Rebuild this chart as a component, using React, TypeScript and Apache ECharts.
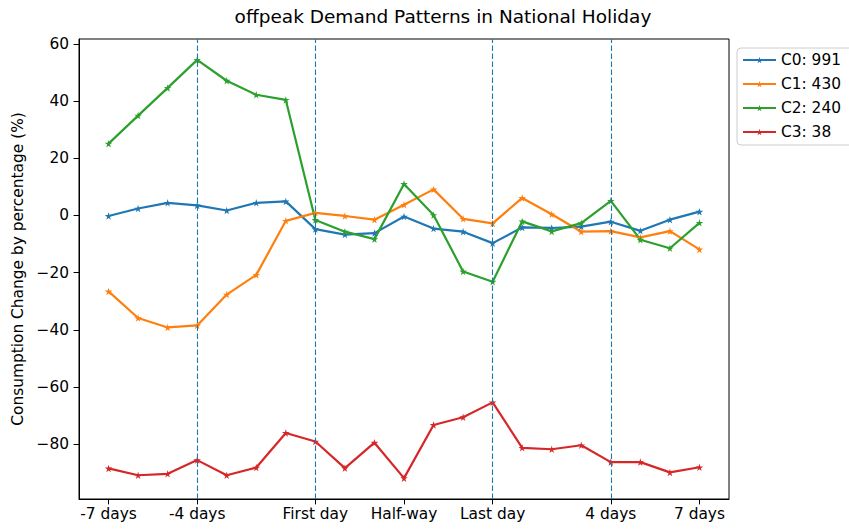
import React, { useEffect, useRef } from "react";
import * as echarts from "echarts";

const title = "offpeak Demand Patterns in National Holiday";
const yAxisTitle = "Consumption Change by percentage (%)";
const tickPositions = [0, 3, 7, 10, 13, 17, 20];
const tickLabels = ["-7 days", "-4 days", "First day", "Half-way", "Last day", "4 days", "7 days"];
const markerLines = [3, 7, 13, 17];
const yTicks = [-80, -60, -40, -20, 0, 20, 40, 60];

const seriesNames = ["C0: 991", "C1: 430", "C2: 240", "C3: 38"];
const colors = ["#1f77b4", "#ff7f0e", "#2ca02c", "#d62728"];

const c0 = [-0.2, 2.4, 4.4, 3.5, 1.7, 4.4, 4.9, -4.8, -6.7, -6.2, -0.4, -4.6, -5.7, -9.7, -4.2, -4.4, -3.9, -2.2, -5.4, -1.5, 1.3];
const c1 = [-26.6, -35.9, -39.2, -38.5, -27.7, -20.8, -1.9, 0.9, -0.2, -1.5, 3.7, 9.1, -1.2, -2.8, 6.1, 0.4, -5.7, -5.5, -7.7, -5.5, -11.9];
const c2 = [25.1, 34.9, 44.6, 54.4, 47.1, 42.2, 40.4, -1.6, -5.7, -8.3, 11.0, 0.1, -19.6, -23.2, -2.1, -5.6, -2.7, 5.1, -8.5, -11.5, -2.6];
const c3 = [-88.5, -90.9, -90.4, -85.6, -90.9, -88.2, -76.1, -79.1, -88.4, -79.5, -91.9, -73.3, -70.6, -65.4, -81.3, -81.8, -80.4, -86.3, -86.3, -89.9, -88.1];

const allSeries = [c0, c1, c2, c3];

const STAR = "path://M50,0 L61,35 L98,35 L68,57 L79,91 L50,70 L21,91 L32,57 L2,35 L39,35 Z";
const FONT = "DejaVu Sans";
const FS = 15.4;

export default function App() {
  const ref = useRef<HTMLDivElement>(null);
  useEffect(() => {
    if (!ref.current) return;
    const chart = echarts.init(ref.current, undefined, { renderer: "svg" });
    const series: any[] = allSeries.map((vals, si) => ({
      name: seriesNames[si],
      type: "line",
      data: vals.map((v, i) => [i, v]),
      symbol: STAR,
      symbolSize: 7.5,
      showSymbol: true,
      color: colors[si],
      lineStyle: { width: 2.2, color: colors[si] },
      itemStyle: { color: colors[si] },
      z: 3,
    }));
    series.push({
      name: "__vlines",
      type: "line",
      data: [],
      markLine: {
        silent: true,
        symbol: ["none", "none"],
        label: { show: false },
        lineStyle: { color: "#1f77b4", type: [5.5, 2.5], width: 1.1 },
        data: markerLines.map((x) => ({ xAxis: x })),
        animation: false,
      },
      z: 2,
    });
    chart.setOption({
      animation: false,
      textStyle: { fontFamily: FONT },
      grid: {
        left: 79,
        right: 120,
        top: 39,
        bottom: 30,
        show: true,
        borderColor: "#000",
        borderWidth: 1,
        backgroundColor: "#fff",
      },
      graphic: [
        {
          type: "text",
          x: 443,
          y: 16,
          style: {
            text: title,
            fontSize: 18.5,
            fontFamily: FONT,
            fill: "#000",
            align: "center",
            verticalAlign: "middle",
          },
        },
      ],
      legend: {
        data: seriesNames,
        orient: "vertical",
        left: 737,
        top: 48,
        padding: [4, 12, 5, 5],
        itemWidth: 33,
        itemHeight: 8,
        itemGap: 8,
        itemTextGap: 10,
        borderColor: "#cccccc",
        borderWidth: 1,
        borderRadius: 4,
        backgroundColor: "rgba(255,255,255,0.8)",
        textStyle: { fontSize: FS, fontFamily: FONT, color: "#000", lineHeight: 16 },
      },
      xAxis: {
        type: "value",
        min: -1,
        max: 21,
        splitLine: { show: false },
        axisLine: { show: true, onZero: false, lineStyle: { color: "#000", width: 1 } },
        axisTick: { show: true, length: 5.4, customValues: tickPositions, lineStyle: { color: "#000" } },
        axisLabel: {
          customValues: tickPositions,
          margin: 7,
          fontSize: FS,
          fontFamily: FONT,
          color: "#000",
          formatter: (v: number) => {
            const idx = tickPositions.indexOf(Math.round(v));
            return idx >= 0 ? tickLabels[idx] : "";
          },
        },
      },
      yAxis: {
        type: "value",
        min: -99.2,
        max: 61.7,
        name: yAxisTitle,
        nameLocation: "middle",
        nameGap: 53,
        nameTextStyle: { fontSize: FS, fontFamily: FONT, color: "#000" },
        splitLine: { show: false },
        axisLine: { show: true, onZero: false, lineStyle: { color: "#000", width: 1 } },
        axisTick: { show: true, length: 5.4, customValues: yTicks, lineStyle: { color: "#000" } },
        axisLabel: {
          customValues: yTicks,
          margin: 10,
          fontSize: FS,
          fontFamily: FONT,
          color: "#000",
          formatter: (v: number) => String(Math.round(v)).replace("-", "\u2212"),
        },
      },
      series,
    });
    return () => chart.dispose();
  }, []);
  return <div ref={ref} style={{ width: 849, height: 529, position: "absolute", left: 0, top: 0 }} />;
}
